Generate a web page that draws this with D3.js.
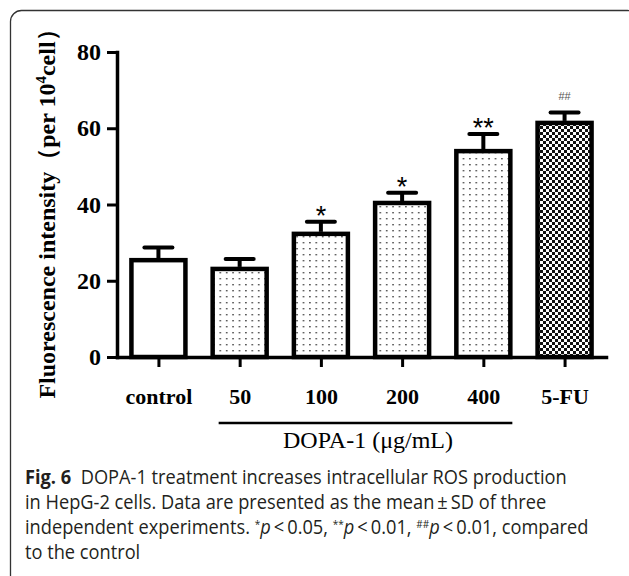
<!DOCTYPE html>
<html>
<head>
<meta charset="utf-8">
<script src="https://cdn.jsdelivr.net/npm/d3@7"></script>
<style>
  body { margin: 0; background: #fff; }
  svg { display: block; }
</style>
</head>
<body>
<div id="chart"></div>
<script>
// data
var groups = ["control", "50", "100", "200", "400", "5-FU"];
var means = [25.4, 23.1, 32.3, 40.4, 54.0, 61.4];
var upperSD = [28.7, 25.7, 35.5, 43.1, 58.5, 64.1];
var marks = ["", "", "*", "*", "**", "##"];
var fills = ["white", "dots", "dots", "dots", "dots", "check"];
var yTicks = [0, 20, 40, 60, 80];
var captionLines = [
    [{t: "Fig. 6", b: true}, {t: "  DOPA-1 treatment increases intracellular ROS production"}],
    [{t: "in HepG-2 cells. Data are presented as the mean\u2009\u00b1\u2009SD of three"}],
    [{t: "independent experiments. "}, {t: "*", sup: true}, {t: "p", i: true}, {t: "\u2009<\u20090.05, "},
     {t: "**", sup: true}, {t: "p", i: true}, {t: "\u2009<\u20090.01, "},
     {t: "##", sup: true}, {t: "p", i: true}, {t: "\u2009<\u20090.01, compared"}],
    [{t: "to the control"}]
];

var W = 629, H = 576;
var serif = "'Liberation Serif', 'Times New Roman', serif";

var svg = d3.select("#chart").append("svg")
            .attr("width", W)
            .attr("height", H);

// patterns
var defs = svg.append("defs");
var dots = defs.append("pattern")
               .attr("id", "dots")
               .attr("patternUnits", "userSpaceOnUse")
               .attr("width", 6.4)
               .attr("height", 6);
dots.append("rect").attr("width", 6.4).attr("height", 6).attr("fill", "#fff");
dots.append("rect").attr("x", 2).attr("y", 2).attr("width", 1.4).attr("height", 1.4).attr("fill", "#333");

var check = defs.append("pattern")
                .attr("id", "check")
                .attr("patternUnits", "userSpaceOnUse")
                .attr("width", 6)
                .attr("height", 6);
check.append("rect").attr("width", 6).attr("height", 6).attr("fill", "#fff");
check.append("rect").attr("x", 0).attr("y", 0).attr("width", 3).attr("height", 3).attr("fill", "#111");
check.append("rect").attr("x", 3).attr("y", 3).attr("width", 3).attr("height", 3).attr("fill", "#111");

// rounded frame around figure
svg.append("rect")
   .attr("x", 10.5)
   .attr("y", 10.5)
   .attr("width", 628)
   .attr("height", 576)
   .attr("rx", 11)
   .attr("fill", "none")
   .attr("stroke", "#333")
   .attr("stroke-width", 1.3);

// scales
var x = d3.scalePoint()
          .domain(groups)
          .range([117, 606])
          .padding(0.51);

var y = d3.scaleLinear()
          .domain([0, 80])
          .range([357, 52]);

var barW = 54;

// bars
var g = svg.append("g");
g.selectAll("rect.bar")
 .data(groups)
 .enter()
 .append("rect")
 .attr("class", "bar")
 .attr("x", function(d) { return x(d) - barW / 2; })
 .attr("y", function(d, i) { return y(means[i]); })
 .attr("width", barW)
 .attr("height", function(d, i) { return y(0) - y(means[i]); })
 .attr("fill", function(d, i) {
     switch (fills[i]) {
         case "dots": return "url(#dots)";
         case "check": return "url(#check)";
         default: return "#fff";
     }
 })
 .attr("stroke", "#000")
 .attr("stroke-width", 4.5);

// error bars (upper only)
g.selectAll("line.err")
 .data(groups)
 .enter()
 .append("line")
 .attr("class", "err")
 .attr("x1", function(d) { return x(d); })
 .attr("x2", function(d) { return x(d); })
 .attr("y1", function(d, i) { return y(means[i]) - 2; })
 .attr("y2", function(d, i) { return y(upperSD[i]); })
 .attr("stroke", "#000")
 .attr("stroke-width", 4);

g.selectAll("line.cap")
 .data(groups)
 .enter()
 .append("line")
 .attr("class", "cap")
 .attr("x1", function(d) { return x(d) - 14; })
 .attr("x2", function(d) { return x(d) + 14; })
 .attr("y1", function(d, i) { return y(upperSD[i]); })
 .attr("y2", function(d, i) { return y(upperSD[i]); })
 .attr("stroke", "#000")
 .attr("stroke-width", 4)
 .attr("stroke-linecap", "round");

// significance marks
g.selectAll("text.sig")
 .data(groups)
 .enter()
 .append("text")
 .attr("class", "sig")
 .attr("x", function(d) { return x(d); })
 .attr("y", function(d, i) {
     return marks[i] === "##" ? y(upperSD[i]) - 13 : y(upperSD[i]) + 3;
 })
 .attr("text-anchor", "middle")
 .attr("font-family", "'Liberation Sans', Arial, sans-serif")
 .attr("font-size", function(d, i) { return marks[i] === "##" ? 11 : 27; })
 .attr("fill", function(d, i) { return marks[i] === "##" ? "#555" : "#000"; })
 .text(function(d, i) { return marks[i]; });

// axes
var yAxis = svg.append("g")
               .attr("transform", "translate(117,0)")
               .call(d3.axisLeft(y).tickValues(yTicks).tickSize(10).tickSizeOuter(0).tickPadding(6));

var xAxis = svg.append("g")
               .attr("transform", "translate(0,357)")
               .call(d3.axisBottom(x).tickSize(10).tickSizeOuter(0).tickPadding(21));

[yAxis, xAxis].forEach(function(ax) {
    ax.select(".domain").attr("stroke", "#000").attr("stroke-width", 3.5).attr("stroke-linecap", "square");
    ax.selectAll(".tick line").attr("stroke", "#000").attr("stroke-width", 3);
    ax.selectAll(".tick text")
      .attr("fill", "#000")
      .attr("font-family", serif)
      .attr("font-weight", "bold");
});
yAxis.selectAll(".tick text").attr("font-size", 24);
xAxis.selectAll(".tick text").attr("font-size", 22);

// y label
var yl = svg.append("text")
            .attr("transform", "translate(55,208) rotate(-90)")
            .attr("text-anchor", "middle")
            .attr("font-family", serif)
            .attr("font-weight", "bold")
            .attr("font-size", 24)
            .attr("fill", "#000");
yl.append("tspan").text("Fluorescence intensity\uff08per 10");
yl.append("tspan").attr("font-size", 15).attr("dy", -9).text("4");
yl.append("tspan").attr("dy", 9).text("cell\uff09");

// DOPA-1 bracket line and label
svg.append("line")
   .attr("x1", x("50") - 21)
   .attr("x2", x("400") + 29)
   .attr("y1", 423)
   .attr("y2", 423)
   .attr("stroke", "#000")
   .attr("stroke-width", 2.5);

svg.append("text")
   .attr("x", 368)
   .attr("y", 448)
   .attr("text-anchor", "middle")
   .attr("font-family", serif)
   .attr("font-size", 24)
   .attr("fill", "#000")
   .text("DOPA-1 (\u03bcg/mL)");

// caption, squeezed horizontally to the width of the first line
var cap = svg.append("g");
var capScale = null;
captionLines.forEach(function(parts, li) {
    var t = cap.append("text")
               .attr("x", 0)
               .attr("y", 0)
               .attr("font-family", "'Open Sans', 'Noto Sans', sans-serif")
               .attr("font-size", 20)
               .attr("fill", "#231f20")
               .style("white-space", "pre");
    parts.forEach(function(p) {
        var s = t.append("tspan").text(p.t);
        if (p.b) s.attr("font-weight", "bold");
        if (p.i) s.attr("font-style", "italic");
        if (p.sup) s.attr("font-size", 11).attr("baseline-shift", "6");
    });
    if (capScale === null) capScale = 542 / t.node().getComputedTextLength();
    t.attr("transform", "translate(25," + (484 + li * 25) + ") scale(" + capScale + ",1)");
});
</script>
</body>
</html>
